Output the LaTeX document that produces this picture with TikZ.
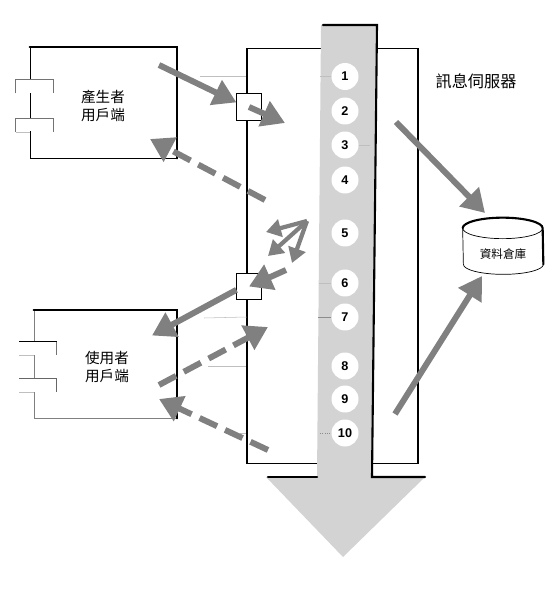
\documentclass[tikz,border=0pt]{standalone}
\usepackage{xcolor}
\usepackage{fontspec}
\setmainfont{Liberation Sans}
\newfontfamily\cjk{Noto Sans CJK TC}
\usetikzlibrary{arrows.meta}
\definecolor{flowgray}{HTML}{D3D3D3}
\definecolor{arrowgray}{HTML}{808080}

\begin{document}
\begin{tikzpicture}[
  x=0.02cm, y=-0.02cm,
  client/.style={draw, line width=0.4pt, inner sep=0pt, align=center, fill=white, font=\cjk\fontsize{8.3}{10.2}\selectfont},
  tab/.style={fill=white, inner sep=0pt, minimum width=0.74cm, minimum height=0.26cm},
  tabline/.style={line width=0.4pt, draw=black!55},
  heavy/.style={line width=1.2pt, line cap=round},
  thin line/.style={line width=0.3pt, draw=black!25},
  port/.style={draw, line width=0.4pt, fill=white, inner sep=0pt, minimum width=0.49cm, minimum height=0.53cm},
  num/.style={circle, fill=white, inner sep=0pt, minimum size=0.54cm, font=\bfseries\fontsize{7.2}{8}\selectfont},
  flow/.style={-{Triangle[length=13pt,width=15pt]}, line width=3.4pt, draw=arrowgray, color=arrowgray},
  back/.style={flow, dash pattern=on 11pt off 5pt},
  swap/.style={-{Triangle[length=8.5pt,width=10pt]}, line width=2.4pt, draw=arrowgray, color=arrowgray}]

\useasboundingbox (0,0) rectangle (560,594);

% server
\node[draw, line width=0.6pt, inner sep=0pt, minimum width=3.42cm, minimum height=8.3cm] (server) at (332.5,256) {};
\node[font=\cjk\fontsize{9.2}{11}\selectfont, inner sep=0pt] (title) at (476,81) {訊息伺服器};

% message flow
\fill[flowgray] (321,25) -- (377,25) -- (372,477) -- (425,477) -- (343,557) -- (266,477) -- (317,477) -- cycle;
\draw[heavy] (323,25) -- (377,25) -- (372,477) -- (425,477);
\draw[heavy] (268,477) -- (317,477);

\node[num] (s1) at (345,76.5) {1};
\node[num] (s2) at (345,111) {2};
\node[num] (s3) at (345,145) {3};
\node[num] (s4) at (345,180) {4};
\node[num] (s5) at (345,233) {5};
\node[num] (s6) at (345,283) {6};
\node[num] (s7) at (345,317) {7};
\node[num] (s8) at (345,366) {8};
\node[num] (s9) at (345,399) {9};
\node[num] (s10) at (345,433) {10};

% small ticks
\draw[thin line] (200,76.5) -- (server.west |- s1);
\draw[thin line] (320,76.5) -- (s1);
\draw[thin line] (s3) -- (370,145);
\draw[thin line] (319,283) -- (s6);
\draw[thin line, draw=black!45] (318,317) -- (s7);
\draw[thin line] (204,318) -- (server.west |- s7);
\draw[thin line] (208,366) -- (server.west |- s8);
\draw[thin line] (240,433) -- (server.west |- s10);
\draw[thin line, densely dotted, draw=black!45] (320,433) -- (s10);

% clients
\node[client, minimum width=2.94cm, minimum height=2.22cm] (prod) at (103.5,102.5) {};
\draw[heavy] (prod.north west) -- (prod.north east) -- (prod.south east);
\node[tab] (ptab1) at (34.5,86.5) {};
\node[tab] (ptab2) at (34.5,125) {};
\draw[tabline] (ptab1.south west) -- (ptab1.north west) -- (ptab1.north east) -- (ptab1.south east);
\draw[tabline] (ptab2.south east) -- (ptab2.north east) -- (ptab2.north west) -- (ptab2.south west);
\draw[thin line] (ptab2.south west) -- (prod.west |- ptab2.south);
\node[font=\cjk\fontsize{8.3}{10.2}\selectfont, align=center, inner sep=0pt] (prodtxt) at (103,106) {產生者\\用戶端};

\node[client, draw=black!50, minimum width=2.86cm, minimum height=2.16cm] (cons) at (105.5,364) {};
\draw[heavy] (cons.north west) -- (cons.north east) -- (cons.south east);
\node[tab] (ctab1) at (38,348.5) {};
\node[tab] (ctab2) at (38,385.5) {};
\draw[line width=0.4pt] (ctab1.north west) -- (ctab1.north east);
\draw[tabline] (ctab1.north east) -- (ctab1.south east);
\draw[thin line] (ctab1.south west) -- (cons.west |- ctab1.south);
\draw[line width=0.4pt, draw=black!60] (ctab2.north west) -- (ctab2.north east) -- (ctab2.south east);
\draw[thin line] (ctab2.south west) -- (cons.west |- ctab2.south);
\node[font=\cjk\fontsize{8.3}{10.2}\selectfont, align=center, inner sep=0pt] (constxt) at (107,367) {使用者\\用戶端};

% ports
\node[port] (portin) at (249,107) {};
\node[port] (portout) at (249,286.5) {};

% database
\node[inner sep=0pt, minimum width=1.6cm, minimum height=1.12cm] (db) at (503,246) {};
\draw[line width=0.4pt, fill=white] ([yshift=-0.21cm]db.north west) arc[start angle=180, end angle=0, x radius=0.8cm, y radius=0.21cm] -- ([yshift=0.2cm]db.south east) arc[start angle=0, end angle=-180, x radius=0.8cm, y radius=0.2cm] -- cycle;
\draw[line width=0.4pt] ([yshift=-0.21cm]db.north west) arc[start angle=180, end angle=360, x radius=0.8cm, y radius=0.21cm];
\draw[heavy] ([yshift=-0.21cm]db.north west) arc[start angle=180, end angle=0, x radius=0.8cm, y radius=0.21cm] -- ([yshift=0.2cm]db.south east);
\node[font=\cjk\fontsize{6.6}{8}\selectfont, inner sep=0pt] (dbtxt) at (503,254) {資料倉庫};

% arrow ends
\coordinate (prodout) at (159,65);
\coordinate (inhead) at (285,123);
\coordinate (ackstart) at (265,200);
\coordinate (ackhead) at (150,139);
\coordinate (apex) at (307,221);
\coordinate (loop1) at (266,232);
\coordinate (loop2) at (268,256);
\coordinate (loop3) at (292,263);
\coordinate (outstart) at (286,270);
\coordinate (conshead) at (152,335.5);
\coordinate (consack) at (159,385);
\coordinate (ackin) at (268,327);
\coordinate (recvstart) at (268,450);
\coordinate (recvhead) at (159,399);
\coordinate (tostore) at (396,122);
\coordinate (storehead) at (485,213);
\coordinate (fromstore) at (395,414);
\coordinate (storeout) at (482,276);

\draw[flow] (prodout) -- (portin.160);
\draw[flow] (portin.center) -- (inhead);
\draw[back] (ackstart) -- (ackhead);
\draw[swap] (apex) -- (loop1);
\draw[swap] (apex) -- (loop2);
\draw[swap] (apex) -- (loop3);
\draw[flow] (outstart) -- (portout.center);
\draw[flow] (portout.195) -- (conshead);
\draw[back] (consack) -- (ackin);
\draw[back] (recvstart) -- (recvhead);
\draw[flow] (tostore) -- (storehead);
\draw[flow] (fromstore) -- (storeout);
\end{tikzpicture}
\end{document}
